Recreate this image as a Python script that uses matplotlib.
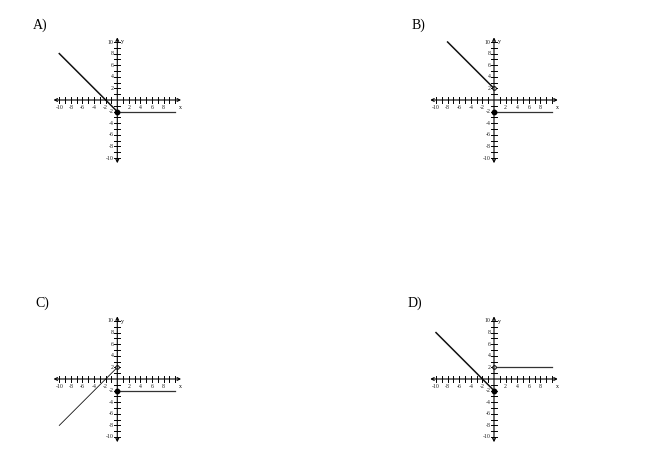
import matplotlib.pyplot as plt

W, H = 653, 475

# four answer choices: piecewise graphs
labels = ['A)', 'B)', 'C)', 'D)']
diag_x = [[-10, 0], [-8, 0], [-10, 0], [-10, 0]]
diag_y = [[8, -2], [10, 2], [-8, 2], [8, -2]]
flat_x = [0, 10]
flat_y = [-2, -2, -2, 2]
closed_pt = [(0, -2), (0, -2), (0, -2), (0, -2)]
open_pt = [None, (0, 2), (0, 2), (0, 2)]
diag_lw = [1.1, 1.1, 0.6, 1.1]

tick_vals = list(range(-10, 11))
label_vals = [-10, -8, -6, -4, -2, 2, 4, 6, 8, 10]

# origin of each grid, in pixels from top-left
origins = [(117.3, 100), (494, 100), (117.3, 379), (494, 379)]
title_pos = [(33, 25), (412, 25), (35, 303), (408, 303)]
ppu = 5.8  # pixels per unit

fig = plt.figure(figsize=(W / 100, H / 100), dpi=100)

for i in range(4):
    ox, oy = origins[i]
    size = 24 * ppu
    ax = fig.add_axes([(ox - size / 2) / W, (H - oy - size / 2) / H, size / W, size / H])
    ax.set_xlim(-12, 12)
    ax.set_ylim(-12, 12)
    ax.axis('off')

    # axes with arrows
    ax.annotate('', xy=(11, 0), xytext=(-11, 0),
                arrowprops=dict(arrowstyle='<->', lw=0.8, color='black', mutation_scale=5,
                                shrinkA=0, shrinkB=0))
    ax.annotate('', xy=(0, 10.8), xytext=(0, -10.9),
                arrowprops=dict(arrowstyle='<->', lw=0.8, color='black', mutation_scale=5,
                                shrinkA=0, shrinkB=0))
    for t in tick_vals:
        if t == 0:
            continue
        ax.plot([t, t], [-0.5, 0.5], color='black', lw=0.7)
        ax.plot([-0.5, 0.5], [t, t], color='black', lw=0.7)
    for t in label_vals:
        if t != 10:
            ax.text(t, -1.3, str(t), fontsize=4.2, family='Liberation Serif',
                    ha='center', va='center', color='#222222')
        ax.text(-0.6, t, str(t), fontsize=4.2, family='Liberation Serif',
                ha='right', va='center', color='#222222')
    ax.text(10.9, -1.3, 'x', fontsize=4.2, family='Liberation Serif', ha='center', va='center')
    ax.text(0.6, 10, 'y', fontsize=4.2, family='Liberation Serif', ha='left', va='center')

    # graph pieces
    ax.plot(diag_x[i], diag_y[i], color='#111111', lw=diag_lw[i])
    ax.plot(flat_x, [flat_y[i], flat_y[i]], color='#333333', lw=0.9)
    cx, cy = closed_pt[i]
    ax.plot([cx], [cy], 'o', color='black', ms=3.2)
    if open_pt[i] is not None:
        px, py = open_pt[i]
        ax.plot([px], [py], 'o', mfc='white', mec='black', ms=2.6, mew=0.7)

    tx, ty = title_pos[i]
    fig.text(tx / W, 1 - ty / H, labels[i], fontsize=10, family='Liberation Serif',
             ha='left', va='center')

fig.savefig('out.png', dpi=100)
